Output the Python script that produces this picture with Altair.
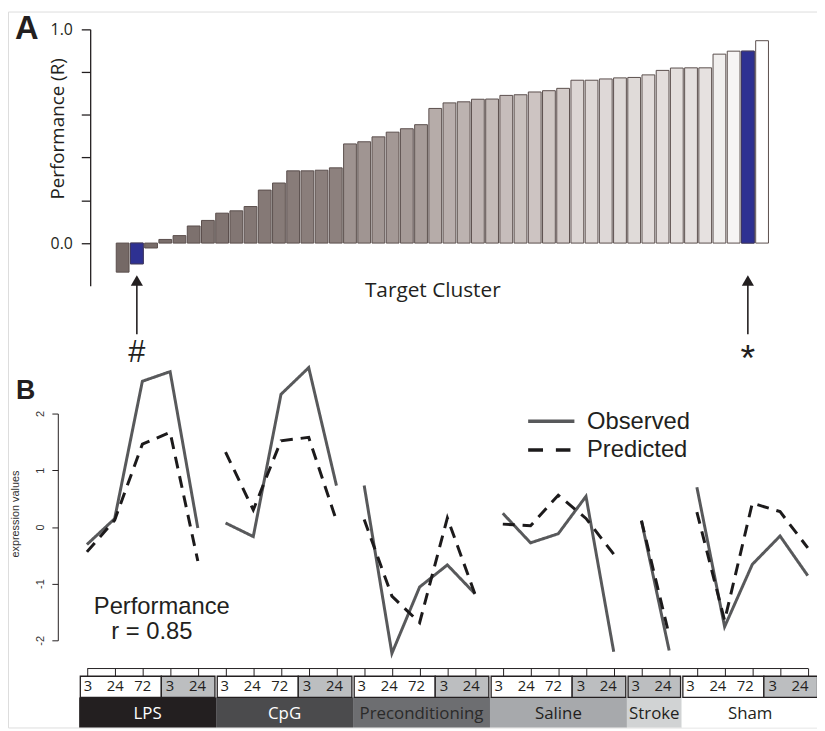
import altair as alt
import pandas as pd

# ---------------- Panel A data ----------------
perf = [-0.136, -0.097, -0.023, 0.017, 0.035, 0.080, 0.106, 0.140, 0.151, 0.171,
        0.248, 0.281, 0.338, 0.338, 0.341, 0.352, 0.464, 0.474, 0.497, 0.519,
        0.535, 0.554, 0.630, 0.656, 0.661, 0.673, 0.674, 0.691, 0.694, 0.707,
        0.713, 0.724, 0.762, 0.762, 0.768, 0.773, 0.775, 0.787, 0.808, 0.819,
        0.820, 0.820, 0.884, 0.898, 0.898, 0.947]
highlight_idx = [1, 44]
highlight_sym = ["#", "*"]
perf_ticks = [0.0, 0.2, 0.4, 0.6, 0.8, 1.0]

# ---------------- Panel B data ----------------
groups = ["LPS", "CpG", "Preconditioning", "Saline", "Stroke", "Sham"]
group_times = [["3", "24", "72", "3", "24"],
               ["3", "24", "72", "3", "24"],
               ["3", "24", "72", "3", "24"],
               ["3", "24", "72", "3", "24"],
               ["3", "24"],
               ["3", "24", "72", "3", "24"]]
group_kind = [["w", "w", "w", "g", "g"],
              ["w", "w", "w", "g", "g"],
              ["w", "w", "w", "g", "g"],
              ["w", "w", "w", "g", "g"],
              ["g", "g"],
              ["w", "w", "w", "g", "g"]]
group_fill = ["#231f20", "#4b4b4d", "#6d6e71", "#a7a9ac", "#d1d3d4", "#ffffff"]
group_text = ["#ffffff", "#ffffff", "#2a2a2a", "#231f20", "#231f20", "#231f20"]

observed = [-0.31, 0.145, 2.57, 2.74, -0.02,
            0.07, -0.17, 2.34, 2.81, 0.73,
            0.73, -2.23, -1.06, -0.67, -1.18,
            0.24, -0.28, -0.12, 0.54, -2.20,
            0.11, -2.18,
            0.70, -1.76, -0.66, -0.16, -0.86]
predicted = [-0.44, 0.12, 1.46, 1.67, -0.60,
             1.32, 0.30, 1.52, 1.58, 0.11,
             0.13, -1.22, -1.69, 0.16, -1.19,
             0.05, 0.02, 0.56, 0.15, -0.48,
             0.11, -1.91,
             0.26, -1.65, 0.42, 0.27, -0.37]
expr_ticks = [-2, -1, 0, 1, 2]

# ---------------- tables ----------------
bars_df = pd.DataFrame({"idx": list(range(len(perf))), "perf": perf})
arrow_df = pd.DataFrame({"idx": highlight_idx, "sym": highlight_sym})

line_rows, time_rows, sub_rows, grp_rows = [], [], [], []
slot = 0
for g, times, kinds, gf, gt in zip(groups, group_times, group_kind, group_fill, group_text):
    start = slot
    for t, k in zip(times, kinds):
        time_rows.append({"slot": slot, "label": t, "kind": k})
        slot += 1
    end = slot
    grp_rows.append({"group": g, "s0": start, "s1": end, "fill": gf, "tcol": gt})
    run_start = start
    for j in range(len(kinds)):
        if j == len(kinds) - 1 or kinds[j + 1] != kinds[j]:
            sub_rows.append({"group": g, "kind": kinds[j], "s0": run_start, "s1": start + j + 1,
                             "first": run_start == start, "last": start + j + 1 == end})
            run_start = start + j + 1

i = 0
for g, times in zip(groups, group_times):
    for _ in times:
        line_rows.append({"i": i, "value": observed[i], "series": "Observed", "group": g})
        line_rows.append({"i": i, "value": predicted[i], "series": "Predicted", "group": g})
        i += 1
lines_df = pd.DataFrame(line_rows)
times_df = pd.DataFrame(time_rows)
sub_df = pd.DataFrame(sub_rows)
grp_df = pd.DataFrame(grp_rows)

INK = "#231f20"
SANS = "Liberation Sans"
MYR = "Open Sans"

# ---------------- Panel A ----------------
xA = alt.X("idx:O", scale=alt.Scale(range=[108.6, 768.7], paddingInner=0.1, paddingOuter=0.05), axis=None)
yA = alt.Y("perf:Q",
           scale=alt.Scale(domain=[-0.2, 1.0], range=[277, 18], nice=False),
           axis=alt.Axis(orient="left", offset=-83, values=perf_ticks,
                         labelExpr="(datum.value == 0 || datum.value == 1) ? format(datum.value, '.1f') : ''",
                         tickSize=9, tickWidth=1.3, tickColor=INK, domainColor=INK, domainWidth=1.3,
                         labelFont=MYR, labelFontSize=16, labelColor=INK, labelPadding=9,
                         grid=False, title="Performance (R)", titleFont=MYR, titleFontSize=19,
                         titleFontWeight="normal", titleColor=INK, titleX=-33, titleY=118,
                         titleAlign="center", titleBaseline="middle", titleAngle=-90))

bars = alt.Chart(bars_df).mark_bar(stroke="#5a4e4c", strokeWidth=1).encode(
    x=xA, y=yA, y2=alt.datum(0),
    color=alt.Color("idx:Q", legend=None,
                    scale=alt.Scale(domain=[0, 15, 16, 21, 22, 31, 32, 41, 42, 45],
                                    range=["#756966", "#8d817e", "#9e9390", "#a79c99", "#b6aca9",
                                           "#d3cbc9", "#dcd6d4", "#e6e1e0", "#f1efee", "#ffffff"],
                                    interpolate="rgb")))
blue = alt.Chart(bars_df).transform_filter(
    alt.FieldOneOfPredicate(field="idx", oneOf=highlight_idx)
).mark_bar(color="#2e3192", stroke="#3b3566", strokeWidth=1).encode(x=xA, y="perf:Q", y2=alt.datum(0))

arrow_rule = alt.Chart(arrow_df).mark_rule(color=INK, strokeWidth=1.6).encode(
    x="idx:O", y=alt.value(272), y2=alt.value(326))
arrow_head = alt.Chart(arrow_df).mark_point(shape="triangle-up", filled=True, size=150,
                                             color=INK, opacity=1).encode(
    x="idx:O", y=alt.value(271.5))
hash_txt = alt.Chart(arrow_df).transform_filter(alt.datum.sym == "#").mark_text(
    font=SANS, fontSize=31, color=INK, baseline="alphabetic").encode(
    x="idx:O", y=alt.value(354), text="sym:N")
star_txt = alt.Chart(arrow_df).transform_filter(alt.datum.sym == "*").mark_text(
    font=SANS, fontSize=38, color=INK, baseline="alphabetic").encode(
    x="idx:O", y=alt.value(363), text="sym:N")

panelA = alt.layer(bars, blue, arrow_rule, arrow_head, hash_txt, star_txt)

# ---------------- Panel B lines ----------------
xB = alt.X("i:Q", scale=alt.Scale(domain=[0, 26], range=[79.7, 807.7], nice=False, zero=False),
           axis=alt.Axis(orient="bottom", offset=-60, values=list(range(27)), labels=False,
                         tickSize=8, tickColor=INK, tickWidth=1, domainColor=INK, domainWidth=1,
                         grid=False, title=None))
yB = alt.Y("value:Q", scale=alt.Scale(domain=[-2, 2], range=[635, 406], nice=False, zero=False),
           axis=alt.Axis(orient="left", offset=-50.3, values=expr_ticks,
                         labelExpr="datum.value < 0 ? '-' + abs(datum.value) : '' + datum.value",
                         labelAngle=-90, labelAlign="center", labelBaseline="bottom",
                         labelFont=SANS, labelFontSize=11, labelColor="#333333", labelPadding=6,
                         tickSize=6, tickColor=INK, domainColor=INK, tickWidth=1, domainWidth=1,
                         grid=False, title="expression values", titleFont=SANS, titleFontSize=11,
                         titleFontWeight="normal", titleColor="#333333", titleX=-43, titleY=507,
                         titleAlign="center", titleBaseline="middle", titleAngle=-90))
lines = alt.Chart(lines_df).mark_line(strokeWidth=3).encode(
    x=xB, y=yB, detail="group:N",
    color=alt.Color("series:N", legend=None,
                    scale=alt.Scale(domain=["Observed", "Predicted"], range=["#58595b", "#1c1a1b"])),
    strokeDash=alt.StrokeDash("series:N", legend=None,
                              scale=alt.Scale(domain=["Observed", "Predicted"], range=[[1, 0], [12, 8]])),
    order="i:Q")

# ---------------- Panel B boxes ----------------
xS = alt.Scale(domain=[0, 27], range=[71.85, 818.67], nice=False, zero=False)
sub_boxes = alt.Chart(sub_df).transform_calculate(
    x0="datum.s0 + (datum.first ? 0.042 : 0)",
    x1="datum.s1 - (datum.last ? 0.042 : 0)"
).mark_rect(stroke=INK, strokeWidth=1.3).encode(
    x=alt.X("x0:Q", scale=xS, axis=None), x2="x1:Q",
    y=alt.value(671.3), y2=alt.value(692.7),
    fill=alt.Fill("kind:N", legend=None, scale=alt.Scale(domain=["w", "g"], range=["#ffffff", "#bcbec0"])))
time_text = alt.Chart(times_df).transform_calculate(xc="datum.slot + 0.32").mark_text(
    font=MYR, fontSize=15, color=INK, baseline="middle").encode(
    x=alt.X("xc:Q", scale=xS, axis=None), y=alt.value(681), text="label:N")
grp_boxes = alt.Chart(grp_df).mark_rect().encode(
    x=alt.X("s0:Q", scale=xS, axis=None), x2="s1:Q",
    y=alt.value(692.7), y2=alt.value(723),
    fill=alt.Fill("fill:N", scale=None))
grp_text = alt.Chart(grp_df).transform_calculate(xc="(datum.s0 + datum.s1) / 2").mark_text(
    font=MYR, fontSize=17, baseline="middle").encode(
    x=alt.X("xc:Q", scale=xS, axis=None), y=alt.value(709), text="group:N",
    color=alt.Color("tcol:N", scale=None))
panelBoxes = alt.layer(grp_boxes, sub_boxes, time_text, grp_text)

# ---------------- annotations ----------------
one = alt.Data(values=[{}])


def label(txt, x, y, size, font=SANS, weight="normal", align="left", baseline="alphabetic", color=INK):
    return alt.Chart(one).mark_text(font=font, fontSize=size, fontWeight=weight, align=align,
                                    baseline=baseline, color=color).encode(
        x=alt.value(x), y=alt.value(y), text=alt.value(txt))


leg_solid = alt.Chart(one).mark_rule(color="#58595b", strokeWidth=3.5).encode(
    x=alt.value(525.3), x2=alt.value(572), y=alt.value(413.7))
leg_dash = alt.Chart(one).mark_rule(color="#1c1a1b", strokeWidth=3.5, strokeDash=[15, 13]).encode(
    x=alt.value(525.3), x2=alt.value(568), y=alt.value(442.7))

annotations = alt.layer(
    label("A", 7, 28, 33, weight="bold"),
    label("B", 8, 391, 27, weight="bold"),
    label("Target Cluster", 429, 282, 21, font=MYR, align="center", baseline="middle"),
    leg_solid, leg_dash,
    label("Observed", 584.7, 422, 24),
    label("Predicted", 584.7, 450.3, 24),
    label("Performance", 155.3, 608.7, 24, align="center"),
    label("r = 0.85", 145.3, 633.7, 24, align="center"),
)

chart = alt.layer(panelBoxes, lines, panelA, annotations).resolve_scale(
    x="independent", y="independent", color="independent", fill="independent",
    strokeDash="independent"
).resolve_axis(x="independent", y="independent").properties(
    width=817, height=723, autosize=alt.AutoSizeParams(type="none"), padding=0
).configure_view(strokeWidth=0, stroke="transparent").configure(background="white")

chart.save("out.html", embed_options={"renderer": "svg", "actions": False})
